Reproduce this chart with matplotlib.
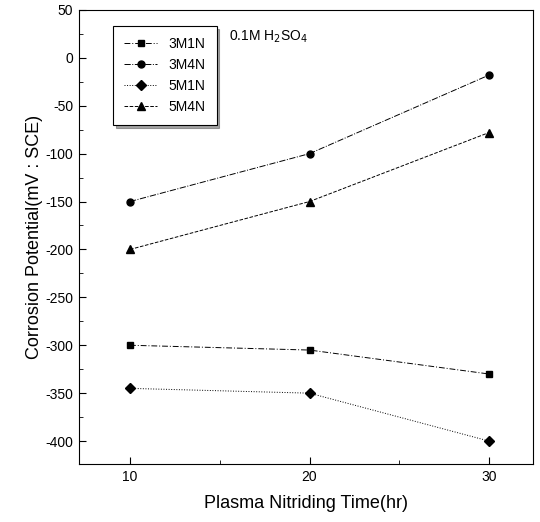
import matplotlib
matplotlib.use("Agg")
import matplotlib.pyplot as plt
from matplotlib.ticker import MultipleLocator

plt.rcParams['font.family'] = ['Liberation Sans', 'DejaVu Sans']
plt.rcParams['axes.unicode_minus'] = False

# 질화 시간 (hr)
time_hr = [10, 20, 30]
s_3m1n = [-300, -305, -330]
s_3m4n = [-150, -100, -18]
s_5m1n = [-345, -350, -400]
s_5m4n = [-200, -150, -78]

fig = plt.figure(figsize=(5.4, 5.22), dpi=100)
ax = fig.add_axes([0.146, 0.111, 0.841, 0.870])

ax.plot(time_hr, s_3m1n, color='black', lw=0.7, ls=(0, (6, 2, 1, 2)), marker='s', ms=5, label='3M1N')
ax.plot(time_hr, s_3m4n, color='black', lw=0.7, ls='-.', marker='o', ms=5, label='3M4N')
ax.plot(time_hr, s_5m1n, color='black', lw=0.7, ls=':', marker='D', ms=5, label='5M1N')
ax.plot(time_hr, s_5m4n, color='black', lw=0.7, ls='--', marker='^', ms=6, label='5M4N')

ax.set_xlim(7.15, 32.45)
ax.set_ylim(-424, 50)
ax.xaxis.set_major_locator(MultipleLocator(10))
ax.xaxis.set_minor_locator(MultipleLocator(5))
ax.yaxis.set_major_locator(MultipleLocator(50))
ax.yaxis.set_minor_locator(MultipleLocator(25))
ax.tick_params(which='both', direction='in', labelsize=10)
ax.tick_params(which='major', length=5, pad=4)
ax.tick_params(which='minor', length=3)

ax.set_xlabel('Plasma Nitriding Time(hr)', fontsize=13, labelpad=8)
ax.set_ylabel('Corrosion Potential(mV : SCE)', fontsize=13)
ax.yaxis.set_label_coords(-0.08, 0.5)

ax.text(0.33, 0.94, r'0.1M H$_2$SO$_4$', transform=ax.transAxes, fontsize=10,
        ha='left', va='center')

leg = ax.legend(loc='upper left', bbox_to_anchor=(0.06, 0.98), fontsize=10,
                frameon=True, fancybox=False, shadow=True, handlelength=2.4,
                borderpad=0.8, labelspacing=0.5)
leg.get_frame().set_edgecolor('black')
leg.get_frame().set_linewidth(0.8)

fig.savefig('out.png', dpi=100)
